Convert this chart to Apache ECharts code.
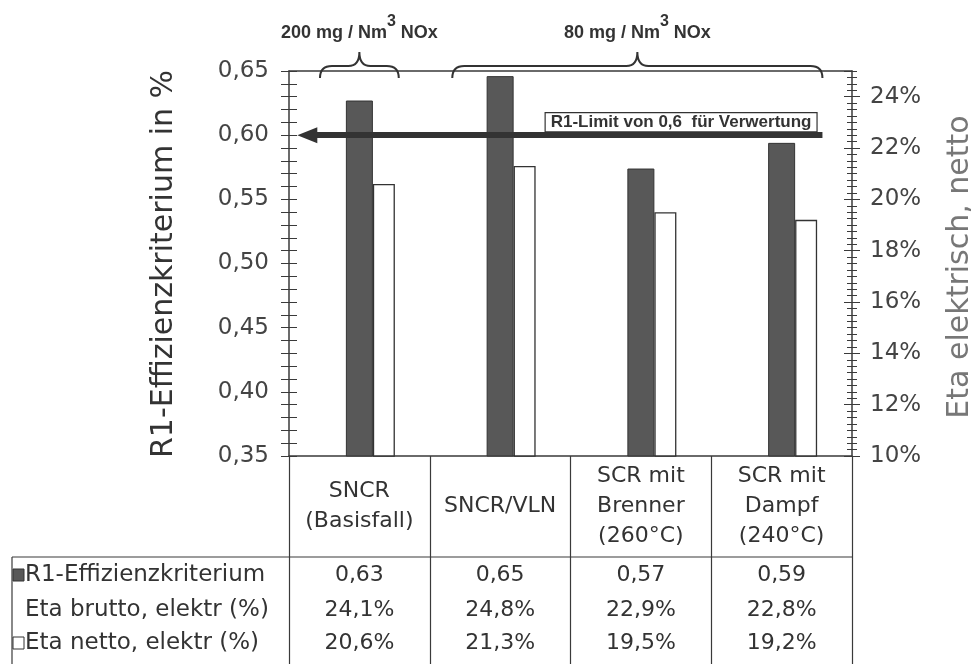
<!DOCTYPE html>
<html>
<head>
<meta charset="utf-8">
<script src="https://cdn.jsdelivr.net/npm/echarts@6/dist/echarts.min.js"></script>
<style>
  html, body { margin: 0; padding: 0; background: #fff; }
  #chart { width: 971px; height: 664px; }
</style>
</head>
<body>
<div id="chart"></div>
<script>
// Daten
const categories = ['SNCR\n(Basisfall)', 'SNCR/VLN', 'SCR mit\nBrenner\n(260°C)', 'SCR mit\nDampf\n(240°C)'];
const r1Values = [0.627, 0.646, 0.574, 0.594];
const etaNettoValues = [20.6, 21.3, 19.5, 19.2];
const r1Table = ['0,63', '0,65', '0,57', '0,59'];
const etaBruttoTable = ['24,1%', '24,8%', '22,9%', '22,8%'];
const etaNettoTable = ['20,6%', '21,3%', '19,5%', '19,2%'];
const rowLabels = ['R1-Effizienzkriterium', 'Eta brutto, elektr (%)', 'Eta netto, elektr (%)'];
const r1Limit = 0.6;
const limitArrow = [0.13, 3.79]; // Kategorie-Einheiten (0..4)
const noxGroups = [
  [0.22, 0.78, '200'],
  [1.16, 3.79, '80']
];

const FONT = 'DejaVu Sans';
const LINE = '#3a3a3a';

let myChart = echarts.init(document.getElementById('chart'));

function tableAxis(offset, rows) {
  return {
    type: 'category',
    position: 'bottom',
    offset: offset,
    data: categories,
    axisLine: { show: false },
    axisTick: { show: false },
    axisLabel: {
      interval: 0,
      margin: 0,
      verticalAlign: 'middle',
      fontSize: 22,
      color: '#333',
      formatter: function (v, i) { return rows[i]; }
    }
  };
}

function yTicks(pos, min, max, interval, inside, len, minor) {
  return {
    type: 'value',
    position: pos,
    min: min,
    max: max,
    interval: interval,
    axisLine: { show: false },
    axisLabel: { show: false },
    splitLine: { show: false },
    axisTick: { show: true, inside: inside, length: len, lineStyle: { color: LINE, width: 1 } },
    minorTick: minor ? { show: true, splitNumber: minor, length: len, lineStyle: { color: LINE, width: 1 } } : { show: false }
  };
}

myChart.setOption({
  animation: false,
  backgroundColor: '#fff',
  textStyle: { fontFamily: FONT },
  grid: {
    left: 289,
    right: 119,
    top: 71,
    bottom: 208,
    outerBoundsMode: 'none'
  },
  xAxis: [
    {
      type: 'category',
      position: 'bottom',
      data: categories,
      boundaryGap: true,
      axisLine: { show: true, lineStyle: { color: LINE, width: 1.5 } },
      axisTick: { show: true, interval: 0, length: 208, lineStyle: { color: LINE, width: 1.2 } },
      axisLabel: {
        interval: 0,
        margin: 50,
        verticalAlign: 'middle',
        lineHeight: 30,
        fontSize: 22,
        color: '#333'
      }
    },
    {
      type: 'value',
      position: 'top',
      min: 0,
      max: 4,
      axisLine: { show: true, lineStyle: { color: LINE, width: 1.5 } },
      axisTick: { show: false },
      axisLabel: { show: false },
      splitLine: { show: false }
    },
    tableAxis(119, r1Table),
    tableAxis(154, etaBruttoTable),
    tableAxis(187, etaNettoTable)
  ],
  yAxis: [
    {
      type: 'value',
      position: 'left',
      min: 0.35,
      max: 0.65,
      interval: 0.05,
      axisLine: { show: true, lineStyle: { color: LINE, width: 1.5 } },
      axisTick: { show: true, length: 8, lineStyle: { color: LINE, width: 1 } },
      minorTick: { show: true, splitNumber: 5, length: 8, lineStyle: { color: LINE, width: 1 } },
      splitLine: { show: false },
      axisLabel: {
        margin: 20,
        fontSize: 23,
        color: '#444',
        formatter: function (v) { return v.toFixed(2).replace('.', ','); }
      }
    },
    {
      type: 'value',
      position: 'right',
      min: 10,
      max: 25,
      interval: 2,
      axisLine: { show: true, lineStyle: { color: LINE, width: 1.5 } },
      axisTick: { show: true, length: 8, lineStyle: { color: LINE, width: 1 } },
      splitLine: { show: false },
      axisLabel: {
        margin: 18,
        fontSize: 23,
        color: '#444',
        showMaxLabel: false,
        formatter: function (v) { return v + '%'; }
      }
    },
    yTicks('left', 0.35, 0.65, 0.05, true, 8, 5),
    yTicks('right', 10, 25, 2, true, 8, 0),
    yTicks('right', 10, 25, 0.25, false, 5, 0),
    yTicks('right', 10, 25, 0.25, true, 5, 0)
  ],
  series: [
    {
      name: 'pad',
      type: 'bar',
      xAxisIndex: 0,
      yAxisIndex: 0,
      barWidth: 22,
      barGap: '0%',
      data: ['-', '-', '-', '-']
    },
    {
      name: 'R1-Effizienzkriterium',
      type: 'bar',
      xAxisIndex: 0,
      yAxisIndex: 0,
      barWidth: 27,
      barGap: '0%',
      itemStyle: { color: '#585858', borderColor: '#333', borderWidth: 1 },
      data: r1Values
    },
    {
      name: 'Eta netto, elektr (%)',
      type: 'bar',
      xAxisIndex: 0,
      yAxisIndex: 1,
      barWidth: 22,
      barGap: '0%',
      itemStyle: { color: '#fff', borderColor: '#333', borderWidth: 1.3 },
      data: etaNettoValues
    },
    {
      name: 'limit',
      type: 'line',
      xAxisIndex: 1,
      yAxisIndex: 0,
      silent: true,
      showSymbol: false,
      lineStyle: { opacity: 0 },
      data: [[limitArrow[0], r1Limit], [limitArrow[1], r1Limit]],
      markLine: {
        silent: true,
        symbol: ['triangle', 'none'],
        symbolSize: [16, 20],
        lineStyle: { color: '#333', width: 6, type: 'solid' },
        label: {
          show: true,
          position: 'insideEndTop',
          distance: [6, 4],
          formatter: 'R1-Limit von 0,6  für Verwertung',
          fontFamily: 'Liberation Sans',
          fontWeight: 'bold',
          fontSize: 17,
          color: '#333',
          backgroundColor: '#fff',
          borderColor: '#333',
          borderWidth: 1.2,
          padding: [1, 5, 0, 5]
        },
        data: [[{ coord: [limitArrow[0], r1Limit] }, { coord: [limitArrow[1], r1Limit] }]]
      }
    },
    {
      name: 'nox',
      type: 'custom',
      xAxisIndex: 1,
      yAxisIndex: 0,
      silent: true,
      clip: false,
      data: noxGroups.map(function (g) { return [g[0], g[1]]; }),
      renderItem: function (params, api) {
        const g = noxGroups[params.dataIndex];
        const x0 = api.coord([api.value(0), 0.65])[0];
        const x1 = api.coord([api.value(1), 0.65])[0];
        const top = api.coord([0, 0.65])[1];
        const xm = (x0 + x1) / 2;
        const yf = top - 5;
        const path = 'M' + x0 + ',' + (top + 7) +
          ' Q' + x0 + ',' + yf + ' ' + (x0 + 12) + ',' + yf +
          ' L' + (xm - 11) + ',' + yf +
          ' Q' + xm + ',' + yf + ' ' + xm + ',' + (top - 19) +
          ' Q' + xm + ',' + yf + ' ' + (xm + 11) + ',' + yf +
          ' L' + (x1 - 12) + ',' + yf +
          ' Q' + x1 + ',' + yf + ' ' + x1 + ',' + (top + 7);
        return {
          type: 'group',
          children: [
            {
              type: 'path',
              shape: { pathData: path },
              style: { fill: 'none', stroke: '#333', lineWidth: 2 }
            },
            {
              type: 'text',
              x: xm,
              y: top - 43,
              style: {
                text: '{a|' + g[2] + ' mg / Nm}{s|3}{a| NOx}',
                align: 'center',
                verticalAlign: 'middle',
                rich: {
                  a: { fontFamily: 'Liberation Sans', fontWeight: 'bold', fontSize: 18, lineHeight: 28, verticalAlign: 'bottom', fill: '#333' },
                  s: { fontFamily: 'Liberation Sans', fontWeight: 'bold', fontSize: 16, lineHeight: 16, verticalAlign: 'top', fill: '#333' }
                }
              }
            }
          ]
        };
      }
    }
  ],
  graphic: [
    {
      type: 'text', x: 164, y: 264, rotation: Math.PI / 2,
      style: { text: 'R1-Effizienzkriterium in %', fontFamily: FONT, fontSize: 30, fill: '#333', align: 'center', verticalAlign: 'middle' }
    },
    {
      type: 'text', x: 960, y: 267, rotation: Math.PI / 2,
      style: { text: 'Eta elektrisch, netto', fontFamily: FONT, fontSize: 30, fill: '#777', align: 'center', verticalAlign: 'middle' }
    },
    { type: 'line', shape: { x1: 12, y1: 557, x2: 852, y2: 557 }, style: { stroke: LINE, lineWidth: 1.2 } },
    { type: 'line', shape: { x1: 12, y1: 557, x2: 12, y2: 664 }, style: { stroke: LINE, lineWidth: 1.2 } },
    { type: 'rect', shape: { x: 13, y: 569, width: 11, height: 12 }, style: { fill: '#585858', stroke: '#333', lineWidth: 1 } },
    { type: 'rect', shape: { x: 13, y: 637, width: 11, height: 12 }, style: { fill: '#fff', stroke: '#333', lineWidth: 1 } },
    { type: 'text', x: 25, y: 575, style: { text: rowLabels[0], fontFamily: FONT, fontSize: 23, fill: '#333', verticalAlign: 'middle' } },
    { type: 'text', x: 25, y: 610, style: { text: rowLabels[1], fontFamily: FONT, fontSize: 23, fill: '#333', verticalAlign: 'middle' } },
    { type: 'text', x: 25, y: 643, style: { text: rowLabels[2], fontFamily: FONT, fontSize: 23, fill: '#333', verticalAlign: 'middle' } }
  ]
});
window.addEventListener('resize', function () {
  myChart.resize();
});
</script>
</body>
</html>
